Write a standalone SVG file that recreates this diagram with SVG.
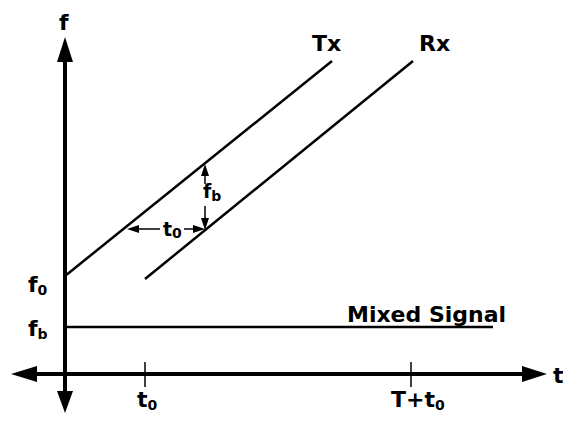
<svg xmlns="http://www.w3.org/2000/svg" width="563" height="422" viewBox="0 0 563 422">
<style>
text{font-family:"DejaVu Sans","Liberation Sans",sans-serif;font-weight:bold;fill:#000}
.lbl{font-size:22px}
.sm{font-size:19px}
.sub{font-size:14px}
.axis{stroke:#000;stroke-width:4;fill:none}
.sig{stroke:#000;stroke-width:2.5;fill:none}
.tick{stroke:#000;stroke-width:1.5}
.dim{stroke:#000;stroke-width:1.5;fill:none}
.head{fill:#000}
</style>
<rect width="563" height="422" fill="#fff"/>
<g id="connectors">
<line class="axis" x1="65" y1="58" x2="65" y2="395"/>
<polygon class="head" points="65,37 57,62 73,62"/>
<polygon class="head" points="65,413 57,391 73,391"/>
<line class="axis" x1="34" y1="374" x2="526" y2="374"/>
<polygon class="head" points="11,374 37,366 37,382"/>
<polygon class="head" points="547,374 522,366 522,382"/>
<line class="tick" x1="145" y1="362" x2="145" y2="387"/>
<line class="tick" x1="411" y1="362" x2="411" y2="387"/>
<line class="dim" x1="136" y1="229" x2="160" y2="229"/>
<polygon class="head" points="127,229 139,225 139,233"/>
<line class="dim" x1="184" y1="229" x2="196" y2="229"/>
<polygon class="head" points="205,229 193,225 193,233"/>
<line class="dim" x1="205" y1="172" x2="205" y2="184"/>
<polygon class="head" points="205,164 201,176 209,176"/>
<line class="dim" x1="205" y1="206" x2="205" y2="220"/>
<polygon class="head" points="205,230 201,218 209,218"/>
</g>
<g id="tx">
<line class="sig" x1="65" y1="276" x2="332" y2="61"/>
<text class="lbl" x="312" y="51">Tx</text>
</g>
<g id="rx">
<line class="sig" x1="145" y1="279" x2="413" y2="61"/>
<text class="lbl" x="419" y="51">Rx</text>
</g>
<g id="mixed">
<line class="sig" x1="65" y1="327" x2="493" y2="327"/>
<text class="lbl" x="347" y="322">Mixed Signal</text>
</g>
<g id="labels">
<text class="lbl" x="59" y="30">f</text>
<text class="lbl" x="553" y="383">t</text>
<text class="lbl" x="28" y="292">f<tspan class="sub" dy="3">0</tspan></text>
<text class="lbl" x="28" y="336">f<tspan class="sub" dy="3">b</tspan></text>
<text class="lbl" x="137" y="407">t<tspan class="sub" dy="3">0</tspan></text>
<text class="lbl" x="391" y="407">T+t<tspan class="sub" dy="3">0</tspan></text>
<text class="sm" x="163" y="236">t<tspan class="sub" dy="2">0</tspan></text>
<text class="sm" x="203" y="198">f<tspan class="sub" dy="3">b</tspan></text>
</g>
</svg>
